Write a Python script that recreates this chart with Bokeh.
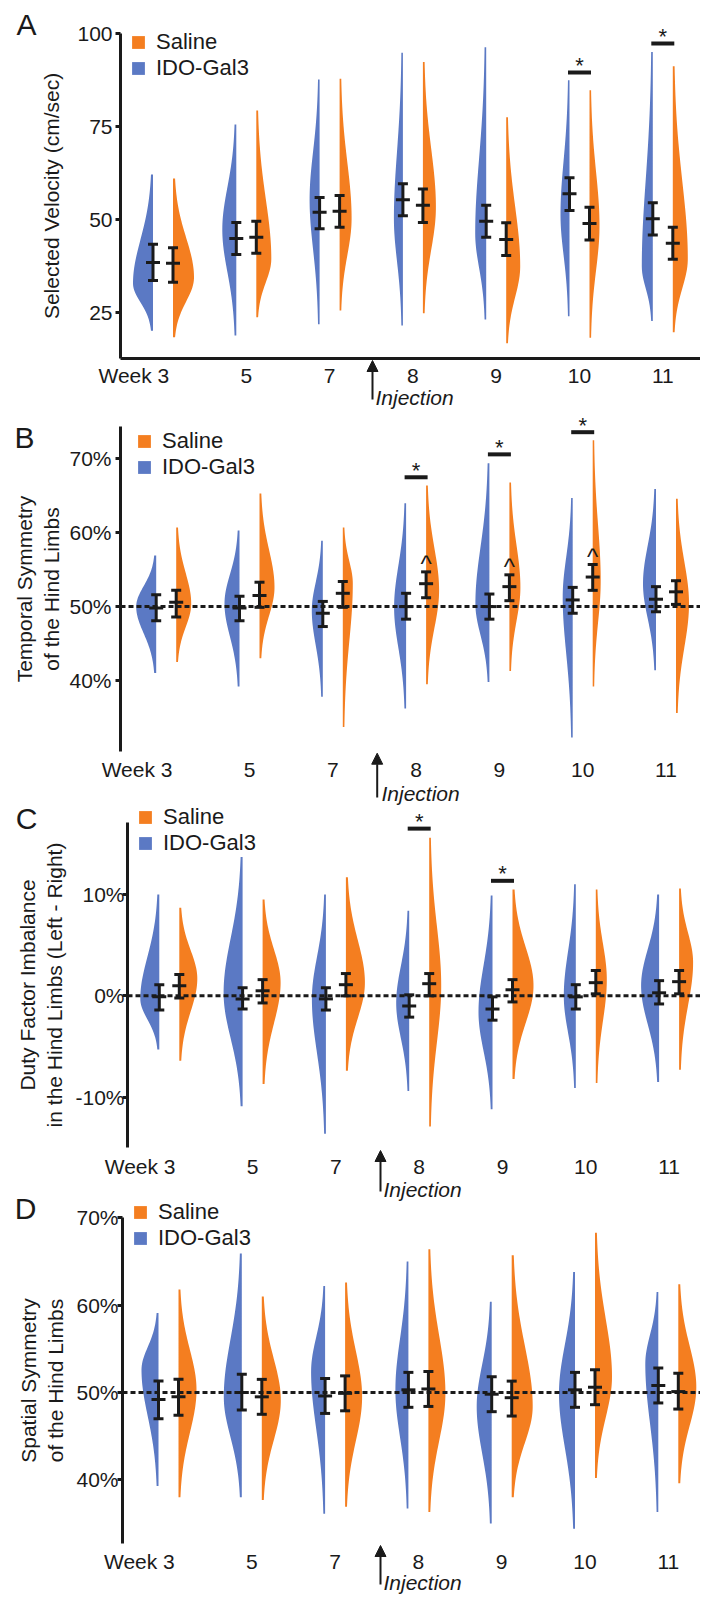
import numpy as np
from bokeh.plotting import figure
from bokeh.models import (Range1d, FixedTicker, PrintfTickFormatter, Legend, LinearAxis,
                          LegendItem, Label, Arrow, NormalHead, ColumnDataSource)
from bokeh.embed import file_html
from bokeh.resources import INLINE
from bokeh.core.properties import value

# ----------------------------------------------------------------- data
weeks = ["Week 3", "5", "7", "8", "9", "10", "11"]
group_names = ["Saline", "IDO-Gal3"]

# A: Selected Velocity (cm/sec)
A_ido_mean = [38.5, 45.0, 52.0, 55.4, 49.6, 57.0, 50.3]
A_ido_lo = [33.7, 40.7, 47.6, 51.1, 45.3, 52.5, 45.9]
A_ido_hi = [43.4, 49.3, 56.0, 59.7, 53.9, 61.3, 54.6]
A_ido_min = [20.2, 18.9, 21.9, 21.6, 23.2, 24.1, 22.8]
A_ido_max = [62.2, 75.6, 87.7, 94.9, 96.4, 87.5, 95.1]
A_ido_mode = [32.9, 47.4, 55.4, 50.4, 46.4, 51.4, 37.5]
A_ido_peak = [20, 14, 10, 9, 11, 9, 11]
A_sal_mean = [38.3, 45.3, 52.3, 53.9, 44.7, 49.0, 43.7]
A_sal_lo = [33.2, 41.0, 48.0, 49.3, 40.4, 44.6, 39.4]
A_sal_hi = [42.5, 49.6, 56.5, 58.3, 49.2, 53.4, 48.0]
A_sal_min = [18.4, 23.8, 25.6, 24.9, 16.8, 18.3, 19.8]
A_sal_max = [61.1, 79.4, 87.9, 92.4, 77.6, 84.8, 91.3]
A_sal_mode = [34.5, 39.5, 50.4, 53.4, 37.5, 48.4, 39.5]
A_sal_peak = [21, 15, 12, 13, 14, 10, 15]
A_sig_week = [5, 6]
A_sig_y = [89.6, 97.4]

# B: Temporal Symmetry of the Hind Limbs (%)
B_ido_mean = [49.8, 49.8, 49.1, 50.0, 50.0, 50.9, 51.0]
B_ido_lo = [48.1, 48.1, 47.3, 48.3, 48.3, 49.1, 49.3]
B_ido_hi = [51.6, 51.4, 50.7, 51.8, 51.7, 52.6, 52.7]
B_ido_min = [41.0, 39.2, 37.8, 36.2, 39.8, 32.3, 41.4]
B_ido_max = [56.9, 60.3, 58.9, 64.0, 69.4, 64.7, 65.9]
B_ido_mode = [50.0, 50.4, 49.5, 49.9, 50.4, 51.3, 53.1]
B_ido_peak = [20, 15, 11, 12, 14, 10, 13]
B_sal_mean = [50.6, 51.5, 51.8, 53.1, 52.7, 54.0, 52.0]
B_sal_lo = [48.6, 49.9, 49.9, 51.2, 50.8, 52.2, 50.3]
B_sal_hi = [52.2, 53.3, 53.4, 54.7, 54.3, 55.7, 53.5]
B_sal_min = [42.5, 43.0, 33.7, 39.5, 41.3, 39.2, 35.6]
B_sal_max = [60.7, 65.3, 60.7, 66.4, 66.8, 72.5, 64.6]
B_sal_mode = [50.4, 52.6, 53.1, 52.2, 52.6, 53.5, 50.4]
B_sal_peak = [15, 15, 10, 13, 11, 8, 13]
B_sig_week = [3, 4, 5]
B_sig_y = [67.5, 70.6, 73.6]
B_caret_week = [3, 4, 5]

# C: Duty Factor Imbalance in the Hind Limbs (%)
C_ido_mean = [-0.1, -0.3, -0.3, -1.0, -1.3, -0.1, 0.3]
C_ido_lo = [-1.4, -1.3, -1.4, -2.1, -2.4, -1.3, -0.8]
C_ido_hi = [1.1, 0.8, 0.8, 0.1, -0.1, 1.1, 1.5]
C_ido_min = [-5.3, -10.9, -13.6, -9.4, -11.2, -9.1, -8.5]
C_ido_max = [10.0, 13.7, 10.0, 8.4, 9.9, 11.0, 10.0]
C_ido_mode = [-0.3, 0.3, -0.3, -0.7, -1.6, 0.0, 1.0]
C_ido_peak = [19, 19, 14, 13, 14, 12, 18]
C_sal_mean = [1.0, 0.5, 1.1, 1.2, 0.6, 1.3, 1.4]
C_sal_lo = [-0.2, -0.7, 0.0, 0.0, -0.6, 0.2, 0.2]
C_sal_hi = [2.1, 1.6, 2.2, 2.2, 1.6, 2.5, 2.5]
C_sal_min = [-6.4, -8.7, -7.4, -12.9, -8.2, -8.6, -7.3]
C_sal_max = [8.7, 9.5, 11.7, 15.6, 10.5, 10.5, 10.6]
C_sal_mode = [1.7, 1.3, 1.3, 1.0, 1.0, 1.6, 3.3]
C_sal_peak = [18, 18, 19, 12, 21, 11, 14]
C_sig_week = [3, 4]
C_sig_y = [16.5, 11.35]

# D: Spatial Symmetry of the Hind Limbs (%)
D_ido_mean = [49.2, 50.0, 49.6, 50.3, 49.8, 50.3, 50.8]
D_ido_lo = [47.0, 48.0, 47.6, 48.3, 47.8, 48.3, 48.8]
D_ido_hi = [51.3, 52.1, 51.6, 52.3, 51.8, 52.3, 52.8]
D_ido_min = [39.3, 38.0, 36.1, 36.7, 35.0, 34.4, 36.3]
D_ido_max = [59.1, 65.9, 62.2, 65.0, 60.4, 63.8, 61.5]
D_ido_mode = [52.6, 49.5, 52.4, 50.3, 48.4, 49.9, 53.3]
D_ido_peak = [17, 18, 14, 13, 15, 16, 13]
D_sal_mean = [49.5, 49.5, 49.9, 50.4, 49.4, 50.6, 50.1]
D_sal_lo = [47.4, 47.5, 47.9, 48.4, 47.3, 48.6, 48.1]
D_sal_hi = [51.5, 51.5, 51.9, 52.4, 51.3, 52.6, 52.2]
D_sal_min = [38.0, 37.7, 36.9, 36.3, 38.0, 40.2, 39.6]
D_sal_max = [61.8, 61.0, 62.6, 66.4, 65.7, 68.3, 62.4]
D_sal_mode = [50.3, 49.1, 49.5, 49.9, 48.4, 51.8, 50.6]
D_sal_peak = [18, 19, 17, 17, 21, 17, 18]


def grp(mean, lo, hi, vmin, vmax, mode, peak):
    return dict(mean=mean, lo=lo, hi=hi, min=vmin, max=vmax, mode=mode, peak=peak)


# ----------------------------------------------------------------- style / layout
FONT = "Liberation Sans"
BLUE = "#5B79C4"
ORANGE = "#F47E20"
INK = "#1A1A1A"
SP = 83.3          # px per week slot
GAP = 10.0         # px from pair centre to split line
CAP = 5.0          # px half width of error caps
MEANW = 7.0        # px half width of mean tick
SIGW = 11.5        # px half width of significance bar
WEEK3_SHIFT = -0.35
W, H = 700, 1596   # canvas size
LEG_H = 48         # legend height used for placing it

panels = [
    dict(key="A", frame_bot=358, left=120, c0=162.5,
         cal=(100, 33.3, 25, 312.3), axis_top=100, ticks=[25, 50, 75, 100], fmt="%d",
         ylabel="Selected Velocity (cm/sec)", letter_xy=(26, 24), legend=(130, 33.3),
         arrow=(372, 360, 399), inj=(375, 396.5), ref=None, xline=True,
         ylab_so=3, ytitle_so=11, xlab_so=5,
         data=(grp(A_ido_mean, A_ido_lo, A_ido_hi, A_ido_min, A_ido_max, A_ido_mode, A_ido_peak),
               grp(A_sal_mean, A_sal_lo, A_sal_hi, A_sal_min, A_sal_max, A_sal_mode, A_sal_peak)),
         sig=(A_sig_week, A_sig_y), caret=[]),
    dict(key="B", frame_bot=751, left=120, c0=165.7,
         cal=(70, 458.3, 40, 680.0), axis_top=74.37, ticks=[40, 50, 60, 70], fmt="%d%%",
         ylabel="Temporal Symmetry\nof the Hind Limbs", letter_xy=(24, 436.7), legend=(136, 431.7),
         arrow=(376.7, 752.7, 797), inj=(381, 792.5), ref=50, xline=False,
         ylab_so=4, ytitle_so=3, xlab_so=6,
         data=(grp(B_ido_mean, B_ido_lo, B_ido_hi, B_ido_min, B_ido_max, B_ido_mode, B_ido_peak),
               grp(B_sal_mean, B_sal_lo, B_sal_hi, B_sal_min, B_sal_max, B_sal_mode, B_sal_peak)),
         sig=(B_sig_week, B_sig_y), caret=B_caret_week),
    dict(key="C", frame_bot=1147, left=127, c0=168.8,
         cal=(10, 894.0, -10, 1096.7), axis_top=17.13, ticks=[-10, 0, 10], fmt="%d%%",
         ylabel="Duty Factor Imbalance\nin the Hind Limbs (Left - Right)", letter_xy=(26, 818),
         legend=(137, 808.3), arrow=(380, 1150, 1191), inj=(383, 1188.5), ref=0, xline=False,
         ylab_so=-2, ytitle_so=6, xlab_so=7,
         data=(grp(C_ido_mean, C_ido_lo, C_ido_hi, C_ido_min, C_ido_max, C_ido_mode, C_ido_peak),
               grp(C_sal_mean, C_sal_lo, C_sal_hi, C_sal_min, C_sal_max, C_sal_mode, C_sal_peak)),
         sig=(C_sig_week, C_sig_y), caret=[]),
    dict(key="D", frame_bot=1543, left=122, c0=168.0,
         cal=(70, 1217.3, 40, 1479.3), axis_top=70, ticks=[40, 50, 60, 70], fmt="%d%%",
         ylabel="Spatial Symmetry\nof the Hind Limbs", letter_xy=(25, 1208), legend=(132, 1203),
         arrow=(380, 1545, 1584), inj=(383, 1581.5), ref=50, xline=False,
         ylab_so=-1, ytitle_so=6, xlab_so=6,
         data=(grp(D_ido_mean, D_ido_lo, D_ido_hi, D_ido_min, D_ido_max, D_ido_mode, D_ido_peak),
               grp(D_sal_mean, D_sal_lo, D_sal_hi, D_sal_min, D_sal_max, D_sal_mode, D_sal_peak)),
         sig=([], []), caret=[]),
]


def half_violin(c, side, vmin, vmax, vmode, peak):
    ys = np.linspace(vmin, vmax, 90)
    s_lo = max(vmode - vmin, 1e-3) / 2.5
    s_hi = max(vmax - vmode, 1e-3) / 2.5
    s = np.where(ys < vmode, s_lo, s_hi)
    w = 1.2 + (peak - 1.2) * np.exp(-0.5 * ((ys - vmode) / s) ** 2)
    base = c + side * GAP / SP
    edge = base + side * w / SP
    return [base] + list(edge) + [base], [vmin] + list(ys) + [vmax]


p = figure(width=W, height=H, output_backend="svg", toolbar_location=None, title=None,
           x_range=Range1d(0, 1), y_range=Range1d(0, 1),
           x_axis_location=None, y_axis_location=None,
           min_border_left=0, min_border_right=0, min_border_top=0, min_border_bottom=0,
           outline_line_color=None, background_fill_color="white", border_fill_color="white")
p.xgrid.visible = False
p.ygrid.visible = False


def add_panel(cfg):
    k = cfg["key"]
    v1, y1, v2, y2 = cfg["cal"]
    ppu = (y2 - y1) / (v1 - v2)

    def yv(py):
        return v1 - (py - y1) / ppu

    def xv(px):
        return (px - cfg["c0"]) / SP

    p.extra_x_ranges[k] = Range1d(xv(0), xv(W))
    p.extra_y_ranges[k] = Range1d(yv(H), yv(0))
    rn = dict(x_range_name=k, y_range_name=k)
    bot = cfg["frame_bot"]
    left = cfg["left"]

    ido, sal = cfg["data"]
    renderers = {}
    for g, side, color, name in ((ido, -1, BLUE, "IDO-Gal3"), (sal, 1, ORANGE, "Saline")):
        xs, ys = [], []
        for i in range(len(weeks)):
            vx, vy = half_violin(i, side, g["min"][i], g["max"][i], g["mode"][i], g["peak"][i])
            xs.append(vx)
            ys.append(vy)
        renderers[name] = p.patches("xs", "ys", source=ColumnDataSource(dict(xs=xs, ys=ys)),
                                    fill_color=color, line_color=None, **rn)

    if cfg["ref"] is not None:
        p.segment(x0=[xv(left)], y0=[cfg["ref"]], x1=[xv(W)], y1=[cfg["ref"]],
                  line_color=INK, line_width=3, line_dash="5 3", **rn)

    for g, side in ((ido, -1), (sal, 1)):
        x = [i + side * GAP / SP for i in range(len(weeks))]
        p.segment(x0=x, y0=g["lo"], x1=x, y1=g["hi"], line_color=INK, line_width=3, **rn)
        for key, hw in (("lo", CAP), ("hi", CAP), ("mean", MEANW)):
            p.segment(x0=[xx - hw / SP for xx in x], y0=g[key], x1=[xx + hw / SP for xx in x],
                      y1=g[key], line_color=INK, line_width=3, **rn)

    sw, sy = cfg["sig"]
    if sw:
        p.segment(x0=[w - SIGW / SP for w in sw], y0=sy, x1=[w + SIGW / SP for w in sw], y1=sy,
                  line_color=INK, line_width=4, **rn)
        p.text(x=sw, y=sy, text=["*"] * len(sw), text_align="center", text_baseline="alphabetic",
               text_font=value(FONT), text_font_size="22px", text_color=INK, y_offset=-7, **rn)
    if cfg["caret"]:
        cw = cfg["caret"]
        p.text(x=[w + GAP / SP for w in cw], y=[sal["hi"][w] for w in cw], text=["^"] * len(cw),
               text_align="center", text_baseline="alphabetic", text_font=value(FONT),
               text_font_size="24px", text_color=INK, y_offset=-8, **rn)

    # legend (location is measured from the frame's lower-left corner)
    gl, gt = cfg["legend"]
    leg = Legend(items=[LegendItem(label=group_names[0], renderers=[renderers["Saline"]]),
                        LegendItem(label=group_names[1], renderers=[renderers["IDO-Gal3"]])],
                 location=(gl, (H - gt) - LEG_H),
                 glyph_width=16, glyph_height=16, label_height=24, label_standoff=10,
                 spacing=0, padding=0, margin=0, border_line_color=None,
                 background_fill_alpha=0, label_text_font=FONT, label_text_font_size="22px",
                 label_text_color=INK)
    p.add_layout(leg)

    # y axis, pinned at the reference's axis line
    ya = LinearAxis(fixed_location=xv(left), ticker=FixedTicker(ticks=cfg["ticks"]),
                    formatter=PrintfTickFormatter(format=cfg["fmt"]),
                    bounds=(yv(bot), cfg["axis_top"]), **rn)
    ya.axis_line_width = 3
    ya.axis_line_color = INK
    ya.major_tick_line_width = 3
    ya.major_tick_line_color = INK
    ya.major_tick_out = 5
    ya.major_tick_in = 0
    ya.minor_tick_line_color = None
    ya.major_label_standoff = cfg["ylab_so"]
    ya.major_label_text_font = FONT
    ya.major_label_text_font_size = "21px"
    ya.major_label_text_color = INK
    ya.axis_label = cfg["ylabel"]
    ya.axis_label_text_font = FONT
    ya.axis_label_text_font_size = "21px"
    ya.axis_label_text_font_style = "normal"
    ya.axis_label_text_color = INK
    ya.axis_label_standoff = cfg["ytitle_so"]
    p.add_layout(ya, "left")

    # x axis, pinned at the bottom of the panel
    ticks = [WEEK3_SHIFT] + list(range(1, len(weeks)))
    xa = LinearAxis(fixed_location=yv(bot), bounds=(xv(left), xv(W)),
                    ticker=FixedTicker(ticks=ticks),
                    major_label_overrides={t: lab for t, lab in zip(ticks, weeks)}, **rn)
    xa.major_tick_line_color = None
    xa.minor_tick_line_color = None
    xa.major_tick_out = 0
    xa.major_tick_in = 0
    xa.major_label_standoff = cfg["xlab_so"]
    xa.major_label_text_font = FONT
    xa.major_label_text_font_size = "21px"
    xa.major_label_text_color = INK
    if cfg["xline"]:
        xa.axis_line_width = 3
        xa.axis_line_color = INK
    else:
        xa.axis_line_color = None
    p.add_layout(xa, "below")

    # panel letter
    lx, ly = cfg["letter_xy"]
    p.add_layout(Label(x=xv(lx), y=yv(ly), text=k, text_font=FONT,
                       text_font_size="30px", text_align="center", text_baseline="middle",
                       text_color=INK, **rn))
    # injection arrow + label
    ax, tip, tail = cfg["arrow"]
    p.add_layout(Arrow(end=NormalHead(size=11, fill_color=INK, line_color=INK),
                       x_start=xv(ax), y_start=yv(tail), x_end=xv(ax), y_end=yv(tip),
                       line_color=INK, line_width=2, **rn))
    ix, iy = cfg["inj"]
    p.add_layout(Label(x=xv(ix), y=yv(iy), text="Injection", text_font=FONT,
                       text_font_size="21px", text_font_style="italic", text_align="left",
                       text_baseline="middle", text_color=INK, **rn))


for c in panels:
    add_panel(c)

open("out.html", "w").write(file_html(p, INLINE))
